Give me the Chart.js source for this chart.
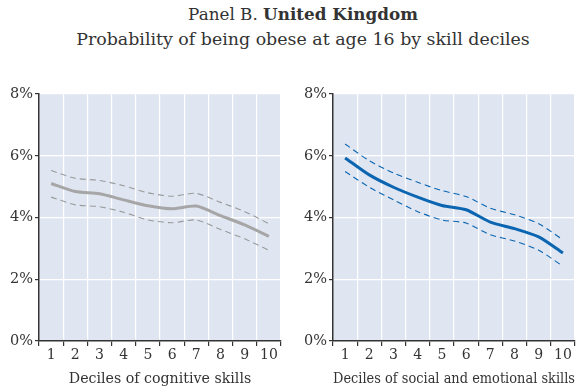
<!DOCTYPE html>
<html>
<head>
<meta charset="utf-8">
<script src="https://cdn.jsdelivr.net/npm/chart.js@4"></script>
<style>
  html, body { margin: 0; padding: 0; background: #fff; }
  body { width: 588px; height: 388px; position: relative; overflow: hidden;
         font-family: "DejaVu Serif", serif; color: #333; }
  .t1 { position: absolute; left: 9px; width: 588px; top: 3px; text-align: center; font-size: 16.8px; line-height: 22px; white-space: nowrap; }
  .t2 { position: absolute; left: 9px; width: 588px; top: 28px; text-align: center; font-size: 17.4px; line-height: 22px; white-space: nowrap; }
  .panel { position: absolute; top: 80px; width: 294px; height: 308px; }
  #p1 { left: 0; }
  #p2 { left: 294px; }
</style>
</head>
<body>
<div class="t1">Panel B. <b>United Kingdom</b></div>
<div class="t2">Probability of being obese at age 16 by skill deciles</div>
<div class="panel" id="p1"><canvas id="c1" width="294" height="308"></canvas></div>
<div class="panel" id="p2"><canvas id="c2" width="294" height="308"></canvas></div>
<script>
// Skill deciles on the horizontal axis
const deciles = ['1', '2', '3', '4', '5', '6', '7', '8', '9', '10'];

// Cognitive skills: estimate and confidence bounds (%)
const cognitiveMid   = [5.10, 4.84, 4.77, 4.57, 4.38, 4.28, 4.37, 4.06, 3.76, 3.39];
const cognitiveUpper = [5.52, 5.27, 5.20, 5.03, 4.80, 4.69, 4.78, 4.49, 4.19, 3.80];
const cognitiveLower = [4.66, 4.41, 4.35, 4.17, 3.92, 3.83, 3.92, 3.61, 3.31, 2.94];

// Social and emotional skills: estimate and confidence bounds (%)
const socialMid   = [5.93, 5.38, 4.98, 4.66, 4.39, 4.25, 3.85, 3.64, 3.37, 2.85];
const socialUpper = [6.38, 5.84, 5.44, 5.14, 4.87, 4.68, 4.30, 4.09, 3.80, 3.28];
const socialLower = [5.49, 4.98, 4.57, 4.19, 3.92, 3.82, 3.44, 3.24, 2.94, 2.42];

const yTicks = [0, 2, 4, 6, 8];

const FONT = '"DejaVu Serif", serif';
const INK = '#333333';

// Fill the plotting area with the pale blue panel colour
const plotBackground = {
  id: 'plotBackground',
  beforeDraw(chart) {
    const { ctx, chartArea: a } = chart;
    ctx.save();
    ctx.fillStyle = '#dfe6f2';
    ctx.fillRect(a.left, a.top, a.right - a.left, a.bottom - a.top);
    ctx.restore();
  }
};

function makeChart(id, mid, upper, lower, colour, bandColour, title, titleSize) {
  const lineDs = (data, width, dash, c) => ({
    data, borderColor: c, borderWidth: width, borderDash: dash,
    pointRadius: 0, tension: 0.25, fill: false
  });
  return new Chart(document.getElementById(id), {
    type: 'line',
    data: {
      labels: deciles,
      datasets: [
        lineDs(upper, 1.1, [6, 4], bandColour),
        lineDs(lower, 1.1, [6, 4], bandColour),
        lineDs(mid, 3, [], colour)
      ]
    },
    options: {
      responsive: false,
      animation: false,
      layout: { padding: { top: 14, right: 13, left: 0, bottom: 0 } },
      plugins: { legend: { display: false }, tooltip: { enabled: false } },
      scales: {
        x: {
          offset: true,
          grid: { offset: true, color: '#ffffff', lineWidth: 1.2, tickColor: INK, tickLength: 5, drawTicks: true },
          border: { color: INK, width: 1.5 },
          ticks: { color: INK, font: { family: FONT, size: 14 }, padding: 1, maxRotation: 0 },
          title: { display: true, text: title, color: INK, font: { family: FONT, size: titleSize }, padding: { top: 4, bottom: 0 } },
          afterFit(s) { s.height = 47; }
        },
        y: {
          min: 0, max: 8,
          afterBuildTicks(s) { s.ticks = yTicks.map(v => ({ value: v })); },
          grid: { color: '#ffffff', lineWidth: 1.2, tickColor: INK, tickLength: 4 },
          border: { color: INK, width: 1.5 },
          ticks: { color: INK, font: { family: FONT, size: 14.5 }, padding: 2, callback: v => v + '%' },
          afterFit(s) { s.width = 39; }
        }
      }
    },
    plugins: [plotBackground]
  });
}

makeChart('c1', cognitiveMid, cognitiveUpper, cognitiveLower, '#a6a6a6', '#9a9a9a', 'Deciles of cognitive skills', 14.2);
makeChart('c2', socialMid, socialUpper, socialLower, '#0b65b1', '#0b65b1', 'Deciles of social and emotional skills', 15.4);
</script>
</body>
</html>
